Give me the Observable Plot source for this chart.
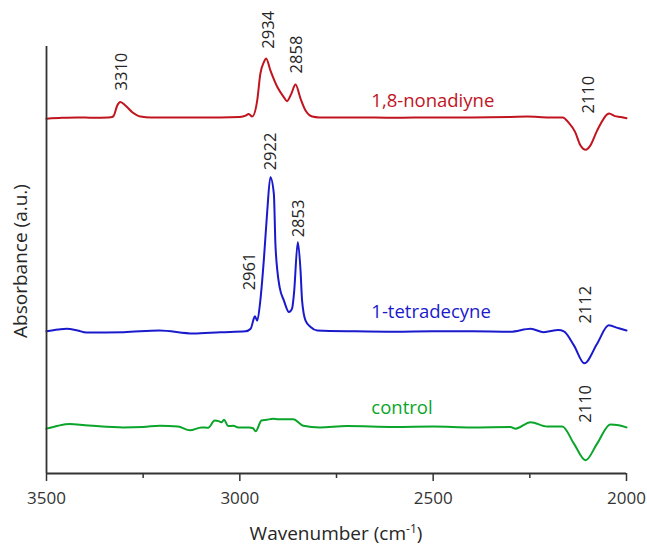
<!DOCTYPE html>
<html><head><meta charset="utf-8">
<script src="https://cdn.jsdelivr.net/npm/d3@7"></script>
<script src="https://cdn.jsdelivr.net/npm/@observablehq/plot@0.6"></script>
<style>body{margin:0;background:#fff} svg{display:block}</style>
</head><body><div id="chart"></div>
<script>
const seriesNames = ["1,8-nonadiyne", "1-tetradecyne", "control"];
const seriesColors = ["#c0141e", "#1a1acc", "#0aa52a"];

const redWn  = [3500,3460,3420,3380,3340,3330,3326,3317,3309,3296,3278,3257,3230,3150,3050,3000,2985,2977,2968,2955,2947,2938,2932,2921,2903,2886,2878,2867,2856,2843,2830,2813,2795,2700,2600,2500,2400,2300,2256,2200,2165,2150,2133,2120,2105,2095,2076,2065,2050,2045,2030,2015,2000];
const redAbs = [8.31,8.33,8.34,8.33,8.34,8.35,8.38,8.62,8.70,8.62,8.46,8.36,8.34,8.34,8.34,8.35,8.38,8.42,8.36,8.74,9.36,9.63,9.72,9.44,9.05,8.81,8.72,8.89,9.11,8.78,8.50,8.36,8.34,8.34,8.33,8.34,8.34,8.35,8.36,8.34,8.34,8.22,8.00,7.70,7.58,7.66,8.03,8.22,8.41,8.43,8.37,8.35,8.32];

const blueWn  = [3500,3470,3448,3420,3397,3300,3208,3120,3050,2985,2972,2961,2955,2947,2938,2929,2921,2912,2908,2903,2897,2886,2873,2865,2860,2850,2843,2839,2830,2817,2800,2700,2600,2500,2400,2300,2248,2214,2176,2162,2136,2109,2076,2046,2020,2000];
const blueAbs = [3.33,3.37,3.39,3.35,3.30,3.31,3.35,3.28,3.31,3.33,3.39,3.68,3.58,4.05,4.99,6.16,6.94,6.55,5.38,4.75,4.36,4.05,3.78,3.86,4.21,5.42,4.75,4.05,3.58,3.43,3.35,3.33,3.32,3.33,3.33,3.32,3.39,3.31,3.36,3.33,3.00,2.58,3.04,3.47,3.40,3.35];

const greenWn  = [3500,3470,3440,3400,3371,3302,3250,3207,3160,3129,3099,3082,3065,3053,3047,3041,3030,3017,3004,2976,2966,2959,2944,2930,2914,2900,2880,2862,2836,2793,2724,2600,2500,2400,2300,2287,2248,2205,2166,2136,2106,2076,2042,2020,2000];
const greenAbs = [1.05,1.12,1.16,1.13,1.11,1.08,1.09,1.12,1.10,1.01,1.08,1.07,1.24,1.22,1.20,1.26,1.11,1.12,1.08,1.08,1.06,0.99,1.24,1.26,1.28,1.27,1.27,1.27,1.12,1.08,1.11,1.09,1.10,1.08,1.09,1.05,1.20,1.10,1.10,0.70,0.31,0.70,1.15,1.13,1.08];

const peakLabels = ["3310","2934","2858","2110","2961","2922","2853","2112","2110"];
const peakWn     = [3305, 2926, 2852, 2098, 2975, 2921, 2848, 2106, 2106];
const peakLevel  = [8.97, 9.95, 9.37, 8.43, 4.29, 7.10, 5.53, 3.51, 1.19];

const seriesLabelWn = [2660, 2660, 2660];
const seriesLabelLevel = [8.59, 3.63, 1.405];

const xTicks = [3500, 3000, 2500, 2000];
const xMinorTicks = [3250, 2750, 2250];

const rows = [];
[[redWn, redAbs], [blueWn, blueAbs], [greenWn, greenAbs]].forEach(([w, a], i) =>
  w.forEach((x, j) => rows.push({series: seriesNames[i], wn: x, abs: a[j]})));

const chart = Plot.plot({
  width: 647, height: 547,
  marginTop: 46, marginRight: 21, marginBottom: 74, marginLeft: 46,
  style: {fontFamily: "'Open Sans', sans-serif", background: "#fff", color: "#333"},
  x: {domain: [3500, 2000]},
  y: {domain: [0, 10], axis: null},
  color: {domain: seriesNames, range: seriesColors},
  marks: [
    Plot.line(rows, {x: "wn", y: "abs", z: "series", stroke: "series", strokeWidth: 2, curve: "monotone-x"}),
    Plot.ruleY([0], {stroke: "#333", strokeWidth: 1.8}),
    Plot.ruleX([3500], {stroke: "#333", strokeWidth: 1.8}),
    Plot.axisX(xTicks, {tickSize: 8, tickPadding: 10, strokeWidth: 1.5, fontSize: 17, label: null, tickFormat: d => String(d)}),
    Plot.axisX(xMinorTicks, {tickSize: 5, strokeWidth: 1.5, label: null, tickFormat: () => ""}),
    Plot.text(peakLabels, {x: (d, i) => peakWn[i], y: (d, i) => peakLevel[i], text: d => d, rotate: -90, textAnchor: "start", fontSize: 16.5, fill: "#262626"}),
    Plot.text(seriesNames, {x: (d, i) => seriesLabelWn[i], y: (d, i) => seriesLabelLevel[i], text: d => d, fill: d => d, textAnchor: "start", lineAnchor: "bottom", fontSize: 18.5})
  ]
});

const svg = d3.select(chart);
svg.append("text")
  .attr("transform", "translate(27,261) rotate(-90)")
  .attr("text-anchor", "middle")
  .attr("font-size", 19)
  .attr("fill", "#262626")
  .text("Absorbance (a.u.)");
const xl = svg.append("text")
  .attr("x", 336).attr("y", 540)
  .attr("text-anchor", "middle")
  .attr("font-size", 19)
  .attr("fill", "#262626");
xl.append("tspan").text("Wavenumber (cm");
xl.append("tspan").attr("dy", -7).attr("font-size", 12).text("-1");
xl.append("tspan").attr("dy", 7).text(")");

document.getElementById("chart").appendChild(chart);
</script>
</body></html>
